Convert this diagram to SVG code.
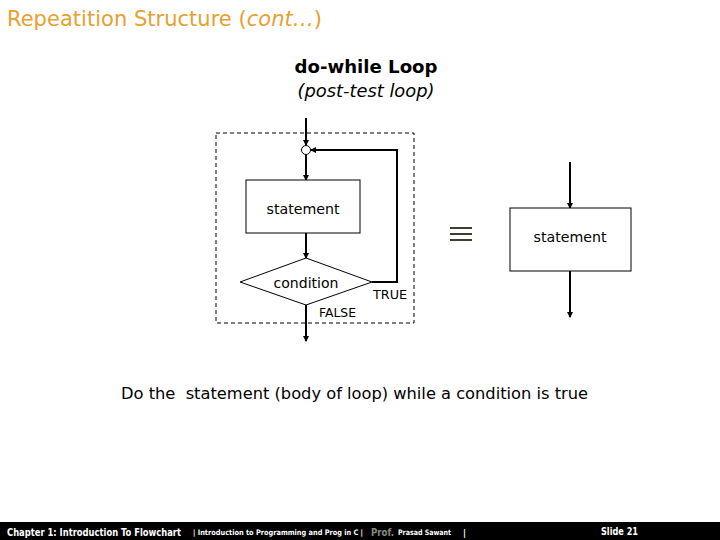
<svg xmlns="http://www.w3.org/2000/svg" width="720" height="540" viewBox="0 0 720 540">
<style>
.t{font-family:"DejaVu Sans","Liberation Sans",sans-serif;fill:#000}
.ln{stroke:#000;stroke-width:2;fill:none}
.box{stroke:#000;stroke-width:1;fill:#fff}
.ft{font-family:"Liberation Sans Narrow","DejaVu Sans Condensed",sans-serif;fill:#fff;font-weight:bold}
</style>
<defs>
<marker id="ah" markerWidth="6" markerHeight="6" refX="5" refY="3" orient="auto" markerUnits="userSpaceOnUse">
<path d="M0,0 L6,3 L0,6 Z" fill="#000"/>
</marker>
</defs>
<rect width="720" height="540" fill="#fff"/>
<text x="7" y="26" font-family="'DejaVu Sans','Liberation Sans',sans-serif" font-size="20.5" fill="#E8A030" textLength="315" lengthAdjust="spacingAndGlyphs">Repeatition Structure (<tspan font-style="italic">cont…</tspan>)</text>
<text class="t" x="366" y="73" font-size="18" font-weight="bold" text-anchor="middle" textLength="143" lengthAdjust="spacingAndGlyphs">do-while Loop</text>
<text class="t" x="366" y="97" font-size="17" font-style="italic" text-anchor="middle" textLength="137" lengthAdjust="spacingAndGlyphs">(post-test loop)</text>
<rect x="216" y="133" width="198" height="190" fill="none" stroke="#000" stroke-width="1" stroke-dasharray="4,3"/>
<g id="connectors">
<line class="ln" x1="306" y1="118" x2="306" y2="145" marker-end="url(#ah)"/>
<line class="ln" x1="306" y1="155" x2="306" y2="180" marker-end="url(#ah)"/>
<line class="ln" x1="306" y1="233" x2="306" y2="258" marker-end="url(#ah)"/>
<polyline class="ln" points="372,282 397,282 397,150 311,150" marker-end="url(#ah)"/>
<line class="ln" x1="306" y1="305" x2="306" y2="341" marker-end="url(#ah)"/>
<line class="ln" x1="570" y1="162" x2="570" y2="208" marker-end="url(#ah)"/>
<line class="ln" x1="570" y1="271" x2="570" y2="317" marker-end="url(#ah)"/>
</g>
<g id="junction"><circle cx="306" cy="150" r="4.5" fill="#fff" stroke="#000" stroke-width="1"/></g>
<g id="statement1">
<rect class="box" x="246" y="180" width="114" height="53"/>
<text class="t" x="303" y="214" font-size="14" text-anchor="middle" textLength="73" lengthAdjust="spacingAndGlyphs">statement</text>
</g>
<g id="condition">
<polygon class="box" points="306,258 372,282 306,305 240,282"/>
<text class="t" x="306" y="288" font-size="14" text-anchor="middle" textLength="65" lengthAdjust="spacingAndGlyphs">condition</text>
</g>
<text class="t" x="373" y="299" font-size="13" textLength="34" lengthAdjust="spacingAndGlyphs">TRUE</text>
<text class="t" x="319" y="317" font-size="13" textLength="37" lengthAdjust="spacingAndGlyphs">FALSE</text>
<g id="equiv" stroke="#3f3f2f" stroke-width="2">
<line x1="450" y1="228" x2="472" y2="228"/>
<line x1="450" y1="234" x2="472" y2="234"/>
<line x1="450" y1="240" x2="472" y2="240"/>
</g>
<g id="statement2">
<rect class="box" x="510" y="208" width="121" height="63"/>
<text class="t" x="570" y="242" font-size="14" text-anchor="middle" textLength="73" lengthAdjust="spacingAndGlyphs">statement</text>
</g>
<text class="t" x="121" y="399" font-size="16" textLength="467" lengthAdjust="spacingAndGlyphs" xml:space="preserve">Do the  statement (body of loop) while a condition is true</text>
<rect x="0" y="522" width="720" height="18" fill="#000"/>
<text class="ft" x="7" y="536" font-size="10.5" textLength="174" lengthAdjust="spacingAndGlyphs">Chapter 1: Introduction To Flowchart</text>
<text class="ft" x="193" y="535" font-size="7.5" textLength="170" lengthAdjust="spacingAndGlyphs">| Introduction to Programming and Prog in C |</text>
<text class="ft" x="371" y="536" font-size="10" style="fill:#888" textLength="23" lengthAdjust="spacingAndGlyphs">Prof.</text>
<text class="ft" x="398" y="535" font-size="7.5" textLength="53" lengthAdjust="spacingAndGlyphs">Prasad Sawant</text>
<text class="ft" x="463" y="536" font-size="9" font-weight="normal">|</text>
<text class="ft" x="601" y="535" font-size="10" textLength="37" lengthAdjust="spacingAndGlyphs">Slide 21</text>
</svg>
